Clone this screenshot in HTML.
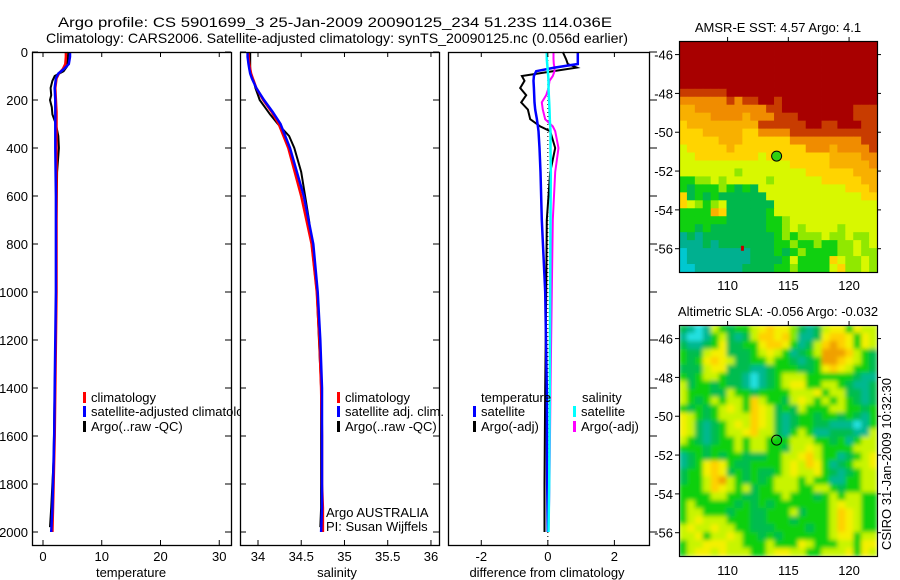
<!DOCTYPE html>
<html><head><meta charset="utf-8"><style>
body{margin:0;background:#fff;}
svg{display:block;font-family:"Liberation Sans",sans-serif;}
</style></head><body>
<svg id="fig" width="900" height="580" viewBox="0 0 900 580">
<defs>
<filter id="soft" x="0" y="0" width="1" height="1"><feGaussianBlur stdDeviation="2.2" edgeMode="duplicate"/></filter>
<clipPath id="slaclip"><rect x="679" y="325" width="198" height="231"/></clipPath>
</defs>
<text x="58" y="27" font-size="14" textLength="554" lengthAdjust="spacingAndGlyphs">Argo profile: CS 5901699_3 25-Jan-2009 20090125_234 51.23S 114.036E</text>
<text x="46" y="43" font-size="14" textLength="582" lengthAdjust="spacingAndGlyphs">Climatology: CARS2006. Satellite-adjusted climatology: synTS_20090125.nc (0.056d earlier)</text>
<g id="plots"></g>
</svg>
<script>
// ---------- profile data ----------
const tDepth = [0,20,50,70,90,110,150,200,250,300,400,600,800,1000,1200,1400,1600,1800,1900,2000];
const tClim = [3.9,3.9,3.8,3.4,2.7,2.3,2.1,2.2,2.3,2.3,2.3,2.3,2.3,2.3,2.2,2.1,2.0,1.8,1.7,1.6];
const tSat = [4.6,4.6,4.4,3.6,2.6,2.2,2.0,2.1,2.1,2.1,2.1,2.2,2.2,2.2,2.1,2.0,1.9,1.7,1.6,1.4];
const sClim = [33.89,33.89,33.9,33.91,33.92,33.94,33.98,34.06,34.16,34.24,34.35,34.5,34.62,34.68,34.71,34.73,34.74,34.74,34.75,34.75];
const sSat = [33.88,33.88,33.89,33.90,33.91,33.93,33.98,34.07,34.17,34.26,34.37,34.53,34.64,34.69,34.72,34.74,34.74,34.74,34.74,34.73];
const aDepth = [0,30,60,80,100,120,150,180,200,230,260,300,350,400,500,700,1000,1400,1700,1900,1980];
const aTemp = [4.3,4.2,4.1,3.5,2.0,1.6,1.3,1.4,1.2,1.5,1.6,2.2,2.6,2.7,2.4,2.3,2.3,2.0,1.8,1.4,1.2];
const aSal = [33.91,33.91,33.91,33.91,33.92,33.95,33.97,34.0,34.02,34.08,34.14,34.23,34.36,34.42,34.50,34.59,34.68,34.73,34.73,34.73,34.72];
const dDepth = [0,30,50,65,80,100,120,150,180,210,240,280,310,330,400,500,700,1000,1400,1800,2000];
const dTsat = [0.9,0.9,0.9,0.2,-0.35,-0.42,-0.43,-0.42,-0.41,-0.4,-0.38,-0.33,-0.3,-0.28,-0.25,-0.22,-0.18,-0.08,-0.03,-0.02,0];
const dTargo = [0.45,0.55,0.6,0.87,0.15,-0.78,-0.7,-0.83,-0.65,-0.8,-0.6,-0.53,-0.23,0.07,0.22,0.07,-0.03,-0.05,-0.08,-0.1,-0.1];
const dSsat = [-0.03,-0.03,-0.02,-0.01,0.0,0.01,0.02,0.02,0.03,0.04,0.05,0.06,0.07,0.08,0.08,0.09,0.08,0.07,0.06,0.04,0.02];
const dSargo = [0.17,0.17,0.18,0.2,0.2,0.15,0.05,0.02,-0.05,-0.18,-0.15,-0.08,0.15,0.22,0.32,0.22,0.15,0.12,0.08,0.05,0.02];
const depthTicks = [0,200,400,600,800,1000,1200,1400,1600,1800,2000];
const tempTicks = [0,10,20,30];
const salTicks = [34,34.5,35,35.5,36];
const salTickLabels = ["34","34.5","35","35.5","36"];
const diffTicks = [-2,0,2];
// ---------- map data ----------
const lonTicks = [110,115,120];
const latTicks = [-46,-48,-50,-52,-54,-56];
const sstGrid = [
"RRRRRRRRRRRRRRRRRRRRRRRRR","RRRRRRRRRRRRRRRRRRRRRRRRR","RRRRRRRRRRRRRRRRRRRRRRRRR","RRRRRRRRRRRRRRRRRRRRRRRRR","RRRRRRRRRRRRRRRRRRRRRRRRR",
"RRRRRRRRRRRRRRRRRRRRRRRRR","BBBBBBRRRRRRRRRRRRRRRRRRR","OOOOOOBOBBRRBRRRRRRRRRRRR","ooOOOOOOOOOBBRRRRRRRRRBBB","ooooOOOOoOOOBBBRRRRRRRBBB",
"YoooooooooBBBBBBRRBBRRRBB","YYYoooooYYOOOOBBBBBBBBBBB","YYYYYoooYYYYYYOOOOOOOOOBB","LYYYYYoYYYYYYYYYOOOoOOOOB","LLYYYYYYYYLYYYYYYYYooooOO",
"LLLLLLLLLLLLLLYYYYYoooooO","LLLLLLLlLLLLLLLLYYYYYYooo","GGllLlLLLLLlLLLLLLYYYYYoo","GgGGGlGgGgLLLLLLLLLLLYYYo","YgGgGggggggLLLLLLLLLLLLYY",
"YLlGlLggggggLLLLLLLLLLLLL","GGGGoYgggggGLLLLLLLLLLLLL","GGGGGGgggggGGlLLLLLLLLLLL","GGgGgggggggGGlLlLLLLlLLLL","TgTgggggggggGlGlllLllLllL",
"TTTgTgggggggGGlGGlGGllLlL","CTTTTTTTTgggGgGlGGGGllLll","CTTTTTTTTggggGLGGGGYLllLl","CCTTTTTTggggGGlGGGGLYllLl"];
const slaGrid = [
"gTCTLGgGGLYoYYlgTgLYYGYLL","TCCTGLgTgLooYolTTgYooYGYL","gTTgGYggGGYooYGTgLoOoYGYL","GggLYYgggGLYLGTgGLOOOoLGg","GgGYoYLggGGLGGgTgGOOoYLGg",
"gggLYYgggTTgGGGggGYoYLGGg","GgGLLGggTCTgGLLLGGGGGGgTT","LgGGgGggTCTgGLYYGGLLGgTTg","LGGGggLGGgGGGGLLLYGLLggTg","LGgGLGLLGoLGGgLYLGLGLGgTg",
"GgGgGLYLGoYLgGgLGGGLLGGgG","YLGgGLLLLoYLgTgGGgGGgGgTG","YLgTgGLYLoYLgTgGGggTTTCTG","YLgTgGLLYoLLgTGLGTTgggTTL","LGgTgGGLGLLGGGLLLGGgGTGLL",
"GGGgGGGLGLLGGgLLYLGGGGLLL","TgGgGgGGgggGGLLYoLGGTgGLY","TgGYoYGggGGGGLYLoYGTgGLLY","gGGYoYgGgGggGLYLLYGgTgGLL","gGGLoOLGgGgGLLLGLGGTTGGLL",
"GGGLoYLGLgGGLLLGGLLGgGGLL","GGGGLLGGggGGGLGGGgGLGLLGG","GLGGGGGgGgGgGGGGGGGLYLLGG","GLLGGGgGGggGGGLgGGGLoYLGG","GLYLLLGGGggGGGgGGGGLoYLGG",
"LYLLYLLGGgggGGGGgGGLoYLGG","LLYGLLYLGGgGgGGGGGGLYYGLL","GLLYYYLLGGGLGGGYLGGGLLGYY","GLYYLYLLLGGLYYLLGGLLLYGYL"];
const sstColors = {R:"#a80000",B:"#c83c00",O:"#f08c00",o:"#f8b000",Y:"#ffd400",L:"#d8f800",l:"#90e800",G:"#10d010",g:"#00b84c",T:"#00b090",C:"#00c8d0"};
const slaColors = {G:"#10d010",g:"#00bc50",T:"#00b890",C:"#20e0e0",l:"#80e800",L:"#c8f400",Y:"#f4f000",o:"#ffd000",O:"#f0a000"};
const argoLon = 114.036, argoLat = -51.23;

const NS="http://www.w3.org/2000/svg";
const root=document.getElementById('plots');
function mk(tag,attrs,parent){const e=document.createElementNS(NS,tag);for(const k in attrs)e.setAttribute(k,attrs[k]);(parent||root).appendChild(e);return e;}
function txt(x,y,s,size,anchor,fill,parent){const t=mk('text',{x:x,y:y,'font-size':size||12,'text-anchor':anchor||'start',fill:fill||'#000'},parent);t.textContent=s;return t;}

const yD=d=>52+d*0.24;
function panel(name,x0,x1,vmin,vmax){
  const g=mk('g',{});
  
  
  mk('rect',{x:x0,y:52,width:x1-x0,height:493,fill:'#fff',stroke:'none'},g);
  const sx=v=>x0+(v-vmin)/(vmax-vmin)*(x1-x0);
  return {g,sx};
}
function line(g,xs,ds,sx,color,w,name){
  const pts=xs.map((v,i)=>sx(v).toFixed(1)+','+yD(ds[i]).toFixed(1)).join(' ');
  const p=mk('polyline',{points:pts,fill:'none',stroke:color,'stroke-width':w,'stroke-linejoin':'miter'},g);
  
  
}
function frame(g,x0,x1,sx,xt,xl,leftLabels,rightOut){
  mk('rect',{x:x0+0.5,y:52.5,width:x1-x0,height:493,fill:'none',stroke:'#000','stroke-width':1.3},g);
  xt.forEach((v,i)=>{const x=sx(v);
    mk('line',{x1:x,y1:52,x2:x,y2:57,stroke:'#000'},g);
    mk('line',{x1:x,y1:545,x2:x,y2:540,stroke:'#000'},g);
    const t=txt(x,561,xl[i],13,'middle','#000',g);
    
    
  });
  depthTicks.forEach(d=>{const y=yD(d);
    if(rightOut){mk('line',{x1:x1,y1:y,x2:x1+8,y2:y,stroke:'#000'},g);}
    else{mk('line',{x1:x0,y1:y,x2:x0+6,y2:y,stroke:'#000'},g);mk('line',{x1:x1-6,y1:y,x2:x1,y2:y,stroke:'#000'},g);}
    if(leftLabels){const t=txt(28,y+5,String(d),13,'end','#000',g);
      
      }
  });
}
function legendItem(g,x,y,color,label,name){
  mk('rect',{x:x,y:y-10,width:3,height:11,fill:color},g);
  const t=txt(x+8,y,label,13,'start','#000',g);
  
  
}

{const P=panel('temperature-panel',32,231,-1.87,32.0);
 line(P.g,aTemp,aDepth,P.sx,'#000',2,'argo-temperature-line');
 line(P.g,tClim,tDepth,P.sx,'#f00',2.5,'climatology-temperature-line');
 line(P.g,tSat,tDepth,P.sx,'#00f',2.5,'satellite-temperature-line');
 frame(P.g,32,231,P.sx,tempTicks,tempTicks.map(String),true,false);
 legendItem(P.g,83,402,'#f00','climatology','legend-climatology');
 legendItem(P.g,83,416,'#00f','satellite-adjusted climatology','legend-satellite-adjusted');
 legendItem(P.g,83,431,'#000','Argo(..raw -QC)','legend-argo');
 const t=txt(131,577,'temperature',13,'middle','#000',P.g);
 }
{const P=panel('salinity-panel',240,439,33.792,36.093);
 line(P.g,aSal,aDepth,P.sx,'#000',2,'argo-salinity-line');
 line(P.g,sClim,tDepth,P.sx,'#f00',2.5,'climatology-salinity-line');
 line(P.g,sSat,tDepth,P.sx,'#00f',2.5,'satellite-salinity-line');
 frame(P.g,240,439,P.sx,salTicks,salTickLabels,false,false);
 legendItem(P.g,337,402,'#f00','climatology','legend-climatology-sal');
 legendItem(P.g,337,416,'#00f','satellite adj. clim.','legend-satellite-sal');
 legendItem(P.g,337,431,'#000','Argo(..raw -QC)','legend-argo-sal');
 const a=txt(326,517,'Argo AUSTRALIA',13,'start','#000',P.g);
 
 const b=txt(326,531,'PI: Susan Wijffels',13,'start','#000',P.g);
 
 const t=txt(337,577,'salinity',13,'middle','#000',P.g);
 }
{const P=panel('difference-panel',448,649,-3.0,3.04);
 mk('line',{x1:P.sx(0),y1:52,x2:P.sx(0),y2:545,stroke:'#000','stroke-dasharray':'1,3'},P.g);
 line(P.g,dTargo,dDepth,P.sx,'#000',2,'argo-temperature-diff-line');
 line(P.g,dSargo,dDepth,P.sx,'#f0f',2,'argo-salinity-diff-line');
 line(P.g,dTsat,dDepth,P.sx,'#00f',2.5,'satellite-temperature-diff-line');
 line(P.g,dSsat,dDepth,P.sx,'#0ff',2.5,'satellite-salinity-diff-line');
 frame(P.g,448,649,P.sx,diffTicks,diffTicks.map(String),false,true);
 const h1=txt(481,402,'temperature',13,'start','#000',P.g);
 
 const h2=txt(582,402,'salinity',13,'start','#000',P.g);
 
 legendItem(P.g,473,416,'#00f','satellite','legend-temp-satellite');
 legendItem(P.g,473,431,'#000','Argo(-adj)','legend-temp-argo');
 legendItem(P.g,573,416,'#0ff','satellite','legend-sal-satellite');
 legendItem(P.g,573,431,'#f0f','Argo(-adj)','legend-sal-argo');
 const t=txt(547,577,'difference from climatology',13,'middle','#000',P.g);
 }

function map(name,grid,colors,y0,y1,latTop,latBot,title,labelY,titleY,smooth){
  const g=mk('g',{});
  
  
  const x0=679,x1=877,lonL=106.0,lonR=122.3;
  const sx=v=>x0+(v-lonL)/(lonR-lonL)*(x1-x0);
  const sy=v=>y0+(latTop-v)/(latTop-latBot)*(y1-y0);
  const rows=grid.length,cols=grid[0].length;
  const cw=(x1-x0)/cols,ch=(y1-y0)/rows;
  const cg=mk('g',smooth?{'clip-path':'url(#slaclip)'}:{},g);
  const inner=mk('g',smooth?{filter:'url(#soft)'}:{},cg);
  grid.forEach((r,i)=>{for(let j=0;j<cols;j++){
    mk('rect',{x:(x0+j*cw).toFixed(2),y:(y0+i*ch).toFixed(2),width:(cw+0.4).toFixed(2),height:(ch+0.4).toFixed(2),fill:colors[r[j]]},inner);
  }});
  mk('rect',{x:x0+0.5,y:y0+0.5,width:x1-x0,height:y1-y0,fill:'none',stroke:'#000','stroke-width':1.2},g);
  lonTicks.forEach(v=>{const x=sx(v);
    mk('line',{x1:x,y1:y0-4,x2:x,y2:y0,stroke:'#000'},g);
    const t=txt(x,labelY,String(v),13,'middle','#000',g);
    });
  latTicks.forEach(v=>{const y=sy(v);
    mk('line',{x1:x0-4,y1:y,x2:x0,y2:y,stroke:'#000'},g);
    mk('line',{x1:x1,y1:y,x2:x1+4,y2:y,stroke:'#000'},g);
    const t=txt(673,y+5,String(v),13,'end','#000',g);
    });
  const c=mk('circle',{cx:sx(argoLon),cy:sy(argoLat),r:5,fill:name==='sst-map'?'#30d010':'none',stroke:'#000','stroke-width':1},g);
  
  
  const tt=txt(778,titleY,title,13,'middle','#000',g);
  
  return {g,sx,sy};
}
const M1=map('sst-map',sstGrid,sstColors,41,272,-45.3,-57.2,'AMSR-E SST: 4.57 Argo: 4.1',290,32,false);
mk('rect',{x:M1.sx(111.1),y:M1.sy(-55.85),width:3,height:5,fill:'#c00000'},M1.g);
const M2=map('sla-map',slaGrid,slaColors,325,556,-45.3,-57.2,'Altimetric SLA: -0.056 Argo: -0.032',575,316,true);
const cs=txt(0,0,'CSIRO 31-Jan-2009 10:32:30',13,'middle','#000');
cs.setAttribute('transform','translate(891,464) rotate(-90)');


</script>
</body></html>
